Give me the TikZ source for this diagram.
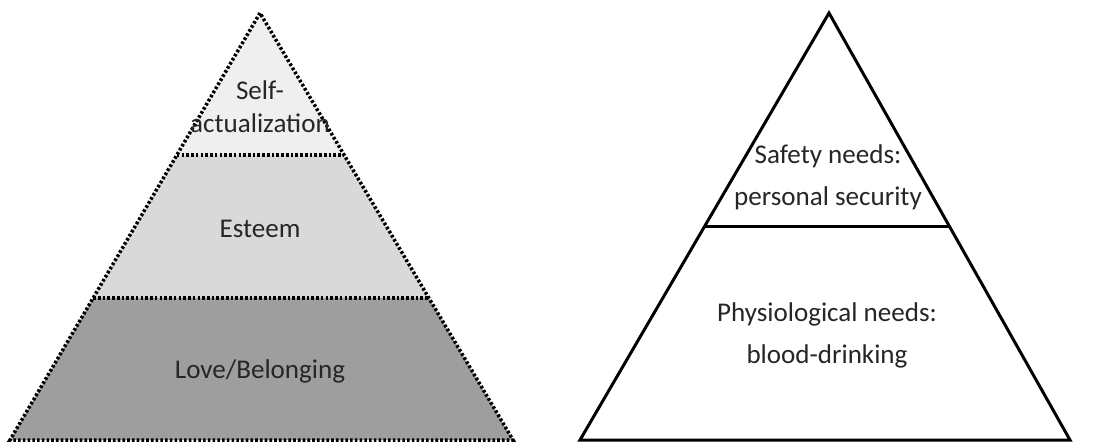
\documentclass[tikz,border=0pt]{standalone}
\usepackage{fontspec}
\setmainfont{Carlito}
\usetikzlibrary{calc}
\definecolor{cTop}{RGB}{239,239,239}
\definecolor{cMid}{RGB}{217,217,217}
\definecolor{cLow}{RGB}{158,158,158}
\definecolor{cText}{RGB}{38,38,38}
\tikzset{
	dotline/.style={line width=2pt, dash pattern=on 1.5pt off 1.2pt},
	solidline/.style={line width=1.7pt, line join=miter},
	lbl/.style={text=cText, align=center, inner sep=0pt, anchor=base},
	tight/.style={lbl, font=\fontsize{15.4}{18.6}\selectfont},
	loose/.style={lbl, font=\fontsize{15.4}{23.8}\selectfont},
}

\begin{document}
\begin{tikzpicture}[x=0.02cm, y=-0.02cm]
	\useasboundingbox (0,0) rectangle (1102,441);
	% dotted pyramid, three levels
	\coordinate (la) at (260,13);
	\coordinate (ll) at (10,440);
	\coordinate (lr) at (513,440);
	\coordinate (l1l) at ($(la)!0.3326!(ll)$);
	\coordinate (l1r) at ($(la)!0.3326!(lr)$);
	\coordinate (l2l) at ($(la)!0.6674!(ll)$);
	\coordinate (l2r) at ($(la)!0.6674!(lr)$);
	\fill[cTop] (la) -- (l1l) -- (l1r) -- cycle;
	\fill[cMid] (l1l) -- (l2l) -- (l2r) -- (l1r) -- cycle;
	\fill[cLow] (l2l) -- (ll) -- (lr) -- (l2r) -- cycle;
	\draw[dotline] (la) -- (ll) -- (lr) -- cycle;
	\draw[dotline] (l1l) -- (l1r);
	\draw[dotline] (l2l) -- (l2r);
	\node[tight] (self) at (260,132) {Self-\\actualization};
	\node[tight] (esteem) at (260,237) {Esteem};
	\node[tight] (love) at (260,378) {Love/Belonging};
	% solid pyramid, two levels
	\coordinate (ra) at (829,13);
	\coordinate (rl) at (580,440);
	\coordinate (rr) at (1070,440);
	\coordinate (r1l) at ($(ra)!0.501!(rl)$);
	\coordinate (r1r) at ($(ra)!0.501!(rr)$);
	\draw[solidline] (ra) -- (rl) -- (rr) -- cycle;
	\draw[solidline] (r1l) -- (r1r);
	\node[loose] (safety) at (828,205) {Safety needs:\\personal security};
	\node[loose] (physio) at (827,363) {Physiological needs:\\blood-drinking};
\end{tikzpicture}
\end{document}
